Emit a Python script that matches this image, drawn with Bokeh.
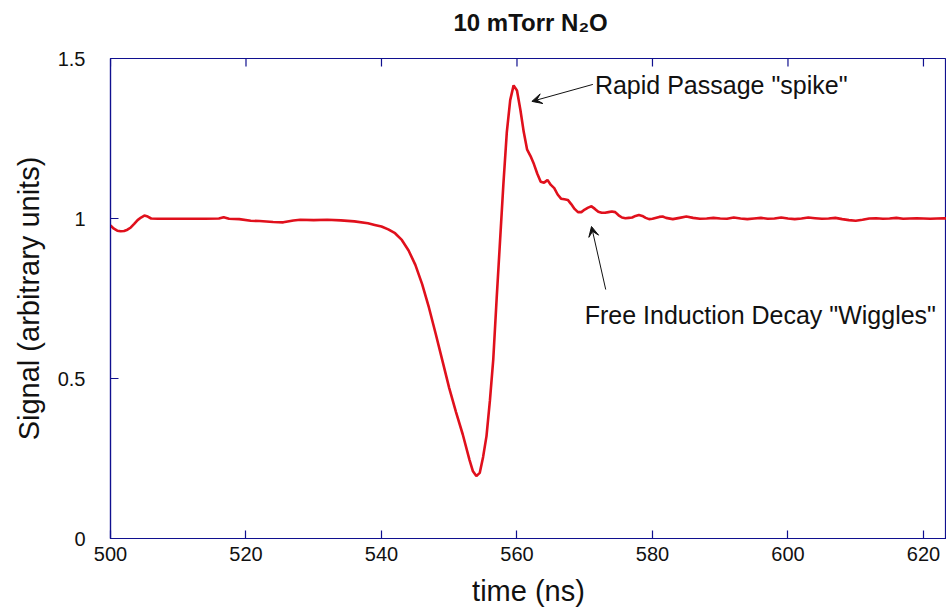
from bokeh.plotting import figure
from bokeh.models import (LinearAxis, Range1d, FixedTicker, NumeralTickFormatter,
                          Label, Arrow, VeeHead, Title)
from bokeh.embed import file_html
from bokeh.resources import INLINE

# ---------------- data ----------------
time_ns = [500, 500.5, 501, 501.5, 502, 502.5, 503, 503.5, 504, 504.5, 505, 505.5,
           506, 507, 508, 510, 512, 514, 516, 516.7, 517.5, 519, 520.7, 522, 524,
           525.5, 527, 528, 530, 532, 534, 536, 538, 539, 540, 541, 542, 543, 544,
           545, 546, 547, 548, 549, 550, 551, 552, 553, 553.5, 554, 554.5, 555,
           555.5, 556, 556.5, 557, 557.5, 558, 558.5, 559, 559.5, 560, 560.5, 561,
           561.5, 562, 562.5, 563, 563.5, 564, 564.5, 565, 565.5, 566, 566.5, 567,
           567.5, 568, 568.5, 569, 569.5, 570, 570.5, 571, 571.5, 572, 572.5, 573,
           573.5, 574, 574.5, 575, 575.5, 576, 576.5, 577, 577.5, 578, 578.5, 579,
           579.5, 580, 581, 581.5, 582, 583, 584, 585, 586, 587, 588, 589, 590, 591,
           592, 593, 594, 595, 596, 597, 598, 599, 600, 601, 602, 603, 604, 605,
           606, 607, 608, 609, 610, 611, 612, 613, 614, 615, 616, 617, 618, 619,
           620, 621, 622, 623, 623.5]
signal = [0.978, 0.968, 0.962, 0.960, 0.961, 0.965, 0.972, 0.983, 0.995, 1.003, 1.009, 1.006,
          1.000, 0.999, 0.999, 0.999, 0.999, 0.999, 1.000, 1.004, 0.999, 0.998, 0.993, 0.992, 0.989,
          0.988, 0.994, 0.996, 0.995, 0.996, 0.994, 0.991, 0.985, 0.980, 0.975, 0.966, 0.954, 0.933, 0.900,
          0.855, 0.795, 0.722, 0.640, 0.555, 0.470, 0.395, 0.325, 0.245, 0.210, 0.195, 0.205, 0.255,
          0.320, 0.430, 0.560, 0.750, 0.930, 1.110, 1.270, 1.370, 1.416, 1.400, 1.340, 1.270,
          1.215, 1.195, 1.170, 1.140, 1.115, 1.112, 1.120, 1.105, 1.095, 1.075, 1.062, 1.060,
          1.058, 1.045, 1.030, 1.020, 1.020, 1.028, 1.034, 1.038, 1.030, 1.021, 1.018, 1.018,
          1.020, 1.022, 1.020, 1.010, 1.003, 1.001, 1.002, 1.003, 1.008, 1.011, 1.008, 1.002,
          0.998, 0.999, 1.005, 1.006, 1.002, 0.998, 1.002, 1.006, 1.002, 0.999, 1.000, 1.002, 1.000, 0.999,
          1.003, 1.000, 0.998, 1.000, 1.002, 0.999, 1.000, 1.003, 1.000, 0.998, 1.000, 1.003, 1.001, 0.999,
          1.000, 1.002, 0.998, 0.995, 0.993, 0.996, 1.000, 1.001, 0.999, 1.000, 1.002, 0.999, 1.000, 1.001,
          1.000, 0.999, 1.000, 1.001, 1.000]

x_ticks = [500, 520, 540, 560, 580, 600, 620]
y_ticks = [0, 0.5, 1, 1.5]

title_text = "10 mTorr N\u2082O"
x_label = "time (ns)"
y_label = "Signal (arbitrary units)"
note_spike = 'Rapid Passage "spike"'
note_wiggles = 'Free Induction Decay "Wiggles"'

# ---------------- styling ----------------
FONT = "Liberation Sans"
AXIS_COLOR = "#10108f"
LINE_COLOR = "#e0101c"
TEXT_COLOR = "#111111"
Y_TOP = 1.5
TICK_LEN = 0.025   # inward tick length on the top edge (~8 px)

p = figure(width=946, height=609, output_backend="svg", toolbar_location=None,
           x_range=Range1d(500, 623.4), y_range=Range1d(0, Y_TOP),
           x_axis_type=None, y_axis_type=None, title=None,
           min_border_left=110, min_border_right=0, min_border_top=58,
           min_border_bottom=69)
p.background_fill_color = "white"
p.border_fill_color = "white"
p.grid.visible = False
p.outline_line_color = AXIS_COLOR
p.outline_line_width = 1.2

title = Title(text=title_text, align="left", offset=343,
              padding=dict(top=0, right=0, bottom=18, left=0),
              text_font=FONT, text_font_style="bold", text_font_size="24px",
              text_color=TEXT_COLOR)
p.add_layout(title, "above")


def style_axis(ax):
    ax.axis_line_color = AXIS_COLOR
    ax.axis_line_width = 1.2
    ax.major_tick_line_color = AXIS_COLOR
    ax.major_tick_line_width = 1.2
    ax.major_tick_in = 8
    ax.major_tick_out = 0
    ax.minor_tick_line_color = None
    ax.major_label_text_font = FONT
    ax.major_label_text_color = TEXT_COLOR
    ax.major_label_text_font_size = "20px"
    ax.axis_label_text_font = FONT
    ax.axis_label_text_font_size = "29px"
    ax.axis_label_text_font_style = "normal"
    ax.axis_label_text_color = TEXT_COLOR


xb = LinearAxis(ticker=FixedTicker(ticks=x_ticks),
                formatter=NumeralTickFormatter(format="0.[0]"), axis_label=x_label)
style_axis(xb)
xb.major_label_standoff = 8
xb.axis_label_standoff = 11
p.add_layout(xb, "below")

yl = LinearAxis(ticker=FixedTicker(ticks=y_ticks),
                formatter=NumeralTickFormatter(format="0.[0]"), axis_label=y_label)
style_axis(yl)
yl.major_label_standoff = 25
yl.axis_label_standoff = 10
p.add_layout(yl, "left")

# inward tick marks on the top edge of the box
p.segment(x0=x_ticks, y0=[Y_TOP] * len(x_ticks), x1=x_ticks,
          y1=[Y_TOP - TICK_LEN] * len(x_ticks), line_color=AXIS_COLOR, line_width=1.2)

# ---------------- curve ----------------
p.line(time_ns, signal, line_color=LINE_COLOR, line_width=2.6)

# ---------------- annotations ----------------
p.add_layout(Label(x=571.5, y=1.416, text=note_spike, text_align="left",
                   text_baseline="middle", text_font=FONT, text_font_size="25px",
                   text_color=TEXT_COLOR))
p.add_layout(Label(x=570.0, y=0.697, text=note_wiggles, text_align="left",
                   text_baseline="middle", text_font=FONT, text_font_size="25px",
                   text_color=TEXT_COLOR))
p.add_layout(Arrow(x_start=571.2, y_start=1.419, x_end=562.2, y_end=1.366,
                   line_color=TEXT_COLOR, line_width=1,
                   end=VeeHead(size=10, line_color=TEXT_COLOR, line_width=1,
                               fill_color=TEXT_COLOR)))
p.add_layout(Arrow(x_start=573.1, y_start=0.778, x_end=571.0, y_end=0.975,
                   line_color=TEXT_COLOR, line_width=1,
                   end=VeeHead(size=10, line_color=TEXT_COLOR, line_width=1,
                               fill_color=TEXT_COLOR)))

open("out.html", "w").write(file_html(p, INLINE))
